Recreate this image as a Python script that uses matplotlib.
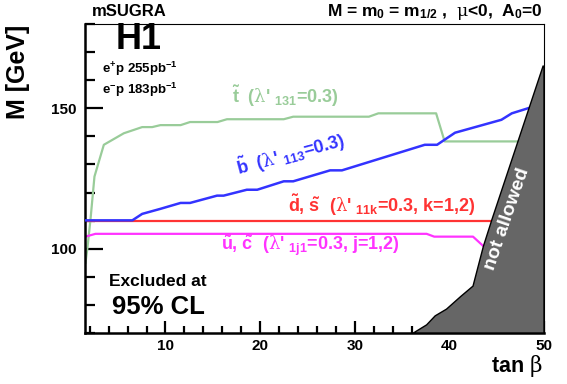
import numpy as np
import matplotlib
matplotlib.use("Agg")
import matplotlib.pyplot as plt
from matplotlib.ticker import MultipleLocator

plt.rcParams['font.family'] = ['Liberation Sans', 'DejaVu Sans']
plt.rcParams['font.weight'] = 'bold'
plt.rcParams['mathtext.fontset'] = 'custom'
plt.rcParams['mathtext.rm'] = 'Liberation Sans:bold'
plt.rcParams['mathtext.bf'] = 'Liberation Sans:bold'
plt.rcParams['mathtext.it'] = 'DejaVu Serif:weight=normal'

# exclusion limits, M [GeV] vs tan beta
stop_tb = [1.55, 1.74, 2.08, 2.5, 3.49, 5.6, 7.54, 8.6, 9.47, 11.6, 12.6, 15.5, 16.5,
           22.5, 23.5, 31.5, 32.5, 38.6, 39.5, 50.0]
stop_m = [95, 99.8, 110.4, 125.7, 137.0, 141.1, 143.3, 143.3, 144.0, 144.0, 145.1,
          145.1, 146.1, 146.1, 147.0, 147.0, 148.2, 148.2, 138.2, 138.2]

sbot_tb = [1.5, 6.5, 7.54, 9.47, 11.6, 12.6, 15.45, 16.15, 18.6, 19.7, 22.5, 23.5,
           27.4, 28.65, 37.4, 38.7, 40.6, 45.5, 46.6, 48.5]
sbot_m = [110.1, 110.1, 112.4, 114.2, 116.3, 116.3, 118.9, 118.9, 121.0, 121.0,
          124.0, 124.0, 127.9, 127.9, 137.0, 137.0, 141.3, 145.9, 148.2, 150.2]

sdown_tb = [1.5, 45.0]
sdown_m = [110.0, 110.0]

sup_tb = [1.55, 2.6, 37.6, 38.4, 42.5, 43.6]
sup_m = [104.3, 105.3, 105.3, 104.3, 104.3, 100.9]

# theoretically not allowed region
na_tb = [36.2, 37.6, 38.5, 39.7, 41.2, 42.5, 43.6, 44.5, 49.9, 50.0, 50.0]
na_m = [70.0, 72.9, 76.1, 78.5, 83.0, 86.7, 100.9, 110.4, 165.0, 165.0, 70.0]

fig = plt.figure(figsize=(5.67, 3.84), dpi=100)
ax = fig.add_axes([85/567, 1-333/384, (544-85)/567, (333-24)/384])

ax.plot(stop_tb, stop_m, color='#99CC99', lw=1.6, zorder=2)
ax.plot(sdown_tb, sdown_m, color='#FF3333', lw=1.6, zorder=2)
ax.plot(sbot_tb, sbot_m, color='#3333FF', lw=1.8, zorder=3)
ax.plot(sup_tb, sup_m, color='#FF33FF', lw=1.6, zorder=2)
ax.fill(na_tb, na_m, facecolor='#666666', edgecolor='black', lw=1.0, zorder=4)

ax.set_xlim(1.5, 50)
ax.set_ylim(70, 180)

ax.xaxis.set_major_locator(MultipleLocator(10))
ax.xaxis.set_minor_locator(MultipleLocator(2))
ax.yaxis.set_major_locator(MultipleLocator(50))
ax.yaxis.set_minor_locator(MultipleLocator(10))
ax.tick_params(axis='both', which='both', direction='in', top=False, right=False,
               labelsize=11, width=1.6)
ax.tick_params(axis='y', which='major', length=13, pad=6)
ax.tick_params(axis='y', which='minor', length=7)
ax.tick_params(axis='x', which='major', length=8.5, pad=4)
ax.tick_params(axis='x', which='minor', length=5)
for lab in ax.get_xticklabels() + ax.get_yticklabels():
    lab.set_fontweight('bold')
ax.spines['left'].set_linewidth(1.8)
ax.spines['bottom'].set_linewidth(1.8)
ax.spines['top'].set_linewidth(0.8)
ax.spines['right'].set_linewidth(0.8)

# curve labels
ax.text(22.7, 154.4, r"$\tilde{\mathbf{t}}$  ($\lambda$' $_{\mathbf{131}}$=0.3)",
        color='#99CC99', fontsize=13, ha='center', va='center')
ax.text(23.2, 133.6, r"$\tilde{\mathbf{b}}$  ($\lambda$' $_{\mathbf{113}}$=0.3)",
        color='#3333FF', fontsize=13, ha='center', va='center', rotation=15)
ax.text(32.9, 115.7, r"$\tilde{\mathbf{d}}$, $\tilde{\mathbf{s}}$  ($\lambda$' $_{\mathbf{11k}}$=0.3, k=1,2)",
        color='#FF3333', fontsize=13, ha='center', va='center')
ax.text(25.3, 100.8, r"$\tilde{\mathbf{u}}$, $\tilde{\mathbf{c}}$  ($\lambda$' $_{\mathbf{1j1}}$=0.3, j=1,2)",
        color='#FF33FF', fontsize=13, ha='center', va='center')
ax.text(46.1, 110.5, 'not allowed', color='white', fontsize=14, ha='center', va='center',
        rotation=71, zorder=5)

ax.text(7.15, 174.6, 'H1', fontsize=26, ha='center', va='center')
ax.text(3.25, 163.9, r'e$^{\mathbf{+}}$p 255pb$^{\mathbf{-1}}$', fontsize=9.5, ha='left', va='center')
ax.text(3.25, 156.6, r'e$^{\mathbf{-}}$p 183pb$^{\mathbf{-1}}$', fontsize=9.5, ha='left', va='center')
ax.text(9.16, 88.5, 'Excluded at', fontsize=12.5, ha='center', va='center')
ax.text(9.3, 79.1, '95% CL', fontsize=18.5, ha='center', va='center')

fig.text(92/567, 1-12/384, 'mSUGRA', fontsize=12, ha='left', va='center')
fig.text(543/567, 1-12/384,
         r'M = m$_{\mathbf{0}}$ = m$_{\mathbf{1/2}}$ ,  $\mu$<0,  A$_{\mathbf{0}}$=0',
         fontsize=12.5, ha='right', va='center')
fig.text(18/567, 1-72/384, 'M [GeV]', fontsize=18, rotation=90, ha='center', va='center')
fig.text(543/567, 1-366/384, r'tan $\beta$', fontsize=15.5, ha='right', va='center')

fig.savefig('out.png', dpi=100)
